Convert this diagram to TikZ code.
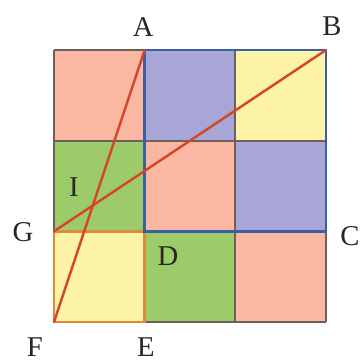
\documentclass[tikz,border=0pt]{standalone}
\usepackage{fontspec}
\setmainfont{Liberation Serif}
\definecolor{rosa}{HTML}{FAB8A2}
\definecolor{lila}{HTML}{A8A6D7}
\definecolor{amarillo}{HTML}{FCF3A6}
\definecolor{verde}{HTML}{9ECB6A}
\definecolor{rejilla}{HTML}{6E6058}
\definecolor{azul}{HTML}{3A5FA3}
\definecolor{naranja}{HTML}{E0893A}
\definecolor{rojo}{HTML}{D4452A}
\begin{document}
\begin{tikzpicture}[
    font=\fontsize{27}{32}\selectfont,
    rejilla/.style={draw=rejilla, line width=1.7pt},
    cuadrado/.style={line width=2.6pt, line join=miter},
    recta/.style={draw=rojo, line width=2.3pt, line cap=round},
    etiqueta/.style={inner sep=0pt, text=black!85}
]
    \useasboundingbox (-1.787,-1.357) rectangle (10.19,10.655);

    % casillas
    \fill[rosa] (0,6) rectangle (3,9);
    \fill[lila] (3,6) rectangle (6,9);
    \fill[amarillo] (6,6) rectangle (9,9);
    \fill[verde] (0,3) rectangle (3,6);
    \fill[rosa] (3,3) rectangle (6,6);
    \fill[lila] (6,3) rectangle (9,6);
    \fill[amarillo] (0,0) rectangle (3,3);
    \fill[verde] (3,0) rectangle (6,3);
    \fill[rosa] (6,0) rectangle (9,3);
    \draw[rejilla] (0,0) grid[step=3] (9,9);

    % vertices
    \coordinate (F) at (0,0);
    \coordinate (E) at (3,0);
    \coordinate (D) at (3,3);
    \coordinate (G) at (0,3);
    \coordinate (C) at (9,3);
    \coordinate (B) at (9,9);
    \coordinate (A) at (3,9);

    \draw[cuadrado, naranja] (F) -- (E) -- (D) -- (G) -- cycle;
    \draw[cuadrado, azul] (A) -- (B) -- (C) -- (D) -- cycle;
    \draw[recta] (F) -- (A);
    \draw[recta] (G) -- (B);

    \node[etiqueta] (etiqA) at (2.95,9.76) {A};
    \node[etiqueta] (etiqB) at (9.2,9.79) {B};
    \node[etiqueta] (etiqC) at (9.79,2.85) {C};
    \node[etiqueta] (etiqD) at (3.77,2.18) {D};
    \node[etiqueta] (etiqE) at (3.04,-0.83) {E};
    \node[etiqueta] (etiqF) at (-0.63,-0.83) {F};
    \node[etiqueta] (etiqG) at (-1.03,2.98) {G};
    \node[etiqueta] (etiqI) at (0.66,4.47) {I};
\end{tikzpicture}
\end{document}
